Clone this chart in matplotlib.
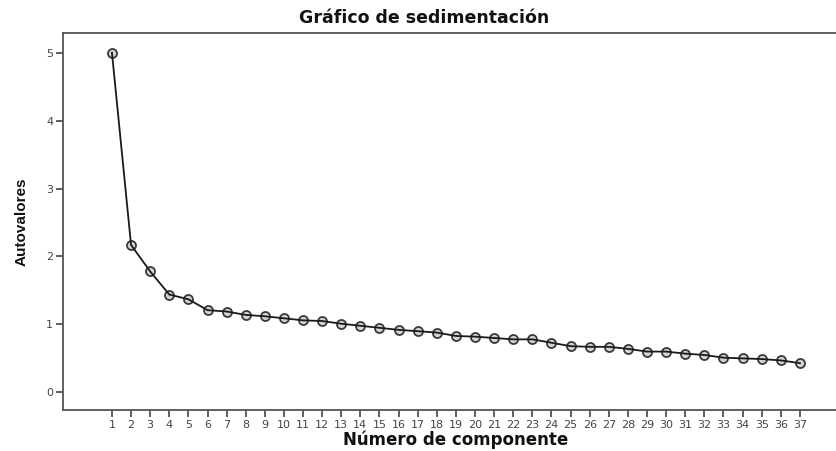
import matplotlib
matplotlib.use("Agg")
import matplotlib.pyplot as plt
from matplotlib import font_manager

# componentes y autovalores
componentes = list(range(1, 38))
autovalores = [5.00, 2.17, 1.78, 1.44, 1.37, 1.21, 1.19, 1.14, 1.12, 1.09,
               1.06, 1.05, 1.01, 0.98, 0.95, 0.92, 0.90, 0.88, 0.83, 0.82,
               0.80, 0.78, 0.78, 0.73, 0.68, 0.67, 0.67, 0.64, 0.60, 0.60,
               0.57, 0.55, 0.51, 0.50, 0.49, 0.47, 0.43]
y_ticks = [0, 1, 2, 3, 4, 5]

names = {f.name for f in font_manager.fontManager.ttflist}
narrow = "Liberation Sans Narrow" if "Liberation Sans Narrow" in names else "Liberation Sans"

plt.rcParams['font.family'] = ['DejaVu Sans']

fig = plt.figure(figsize=(8.37, 4.51), dpi=100, facecolor='white')
ax = fig.add_axes([0.0753, 0.0909, 0.9247, 0.8359])

# circulos huecos, la linea pasa por encima
ax.plot(componentes, autovalores, linestyle='none', marker='o', markersize=6.5,
        markerfacecolor='#d4d4d4', markeredgecolor='#3a3a3a',
        markeredgewidth=1.3, zorder=2)
ax.plot(componentes, autovalores, color='#1a1a1a', linewidth=1.3, zorder=3)

ax.set_xlim(-1.56, 38.94)
ax.set_ylim(-0.26, 5.29)
ax.set_xticks(componentes)
ax.set_xticklabels([str(c) for c in componentes])
ax.set_yticks(y_ticks)
ax.tick_params(axis='both', direction='out', length=5, width=1.2,
               color='#444444', labelsize=8, labelcolor='#444444', pad=2)

for side in ['left', 'bottom', 'top']:
    ax.spines[side].set_color('#555555')
    ax.spines[side].set_linewidth(1.3)
ax.spines['right'].set_visible(False)

fig.text(424 / 837, 1 - 18 / 451, "Gráfico de sedimentación", ha='center',
         va='center', fontsize=12.5, fontweight='bold', color='#111111')
fig.text(456 / 837, 1 - 440 / 451, "Número de componente", ha='center',
         va='center', fontsize=12, fontweight='bold', color='#111111')
fig.text(22 / 837, 1 - 222 / 451, "Autovalores", ha='center', va='center',
         rotation=90, fontsize=11, fontweight='bold', color='#111111',
         family=[narrow, 'DejaVu Sans'])

fig.savefig("out.png", dpi=100, facecolor='white')
